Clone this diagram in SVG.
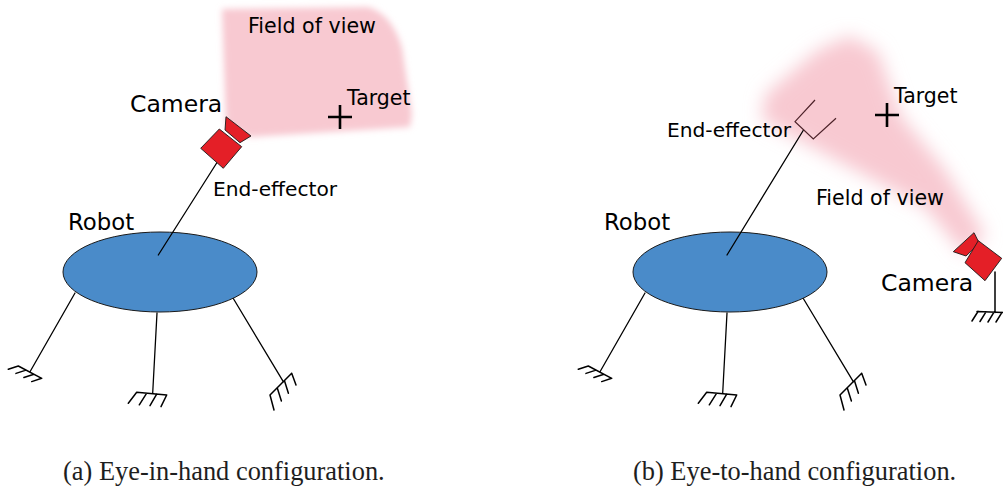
<svg xmlns="http://www.w3.org/2000/svg" width="1003" height="488" viewBox="0 0 1003 488">
  <style>
    .lbl { font-family: "DejaVu Sans", Verdana, sans-serif; fill: #000; }
    .cap { font-family: "Liberation Serif", "Times New Roman", serif; font-size: 26.4px; fill: #1e1e1e; }
    .wire { stroke: #000; stroke-width: 1.3; fill: none; stroke-linecap: round; }
    .gnd { stroke: #000; stroke-width: 1.5; fill: none; stroke-linecap: round; }
    .body { fill: #4a8bc9; stroke: #1a1a1a; stroke-width: 1; }
    .cam { fill: #e41f27; stroke: #1a1a1a; stroke-width: 0.9; stroke-linejoin: round; }
    .fov { fill: #f8c9d1; }
    .cross { stroke: #000; stroke-width: 2.6; }
  </style>
  <defs>
    <filter id="softA" x="-20%" y="-20%" width="140%" height="140%">
      <feGaussianBlur stdDeviation="3"/>
    </filter>
    <filter id="softB" x="-30%" y="-30%" width="160%" height="160%">
      <feGaussianBlur stdDeviation="9"/>
    </filter>
    <!-- three legs with ground symbols, shared by both robots -->
    <g id="legs">
      <path class="wire" d="M75,293 L30,371.7"/>
      <path class="gnd" d="M18.3,366 L41.7,378.3 M18.3,366 L8.3,369.3 M26,370.1 L16,373.4 M33.9,374.2 L23.9,377.5 M41.7,378.3 L31.7,381.6"/>
      <path class="wire" d="M157,313 L152.7,393"/>
      <path class="gnd" d="M136.7,392.3 L166.7,395 M136.7,392.3 L128.3,403.3 M146.7,393.2 L139.3,404.8 M156.7,394.1 L150,405.7 M166.7,395 L161,406.7"/>
      <path class="wire" d="M233,298 L283.3,381.7"/>
      <path class="gnd" d="M270,395 L291.7,373.3 M270,395 L274,410 M277.2,387.8 L281.4,401 M284.4,380.5 L288.4,393.3 M291.7,373.3 L296,385"/>
    </g>
  </defs>

  <!-- (a) eye-in-hand -->
  <g id="fov-a">
    <path class="fov" filter="url(#softA)" d="M222,9 L368,7 Q392,14 402,48 L412,114 L410,127 L250,137 L226,126 Z"/>
  </g>
  <g id="robot-a">
    <g id="connectors-a">
      <use href="#legs"/>
    </g>
    <ellipse class="body" cx="160" cy="272" rx="97" ry="40"/>
    <path class="wire" d="M158.3,255 L217,162.5"/>
  </g>
  <g id="camera-a">
    <polygon class="cam" points="225,130 226,116.7 251,136 240,142.7"/>
    <polygon class="cam" points="200.7,148.3 219.3,129 241.7,146.7 223.3,168.3"/>
  </g>
  <g id="target-a">
    <path class="cross" d="M328,117 H352 M340,105 V129"/>
  </g>
  <g id="labels-a">
    <text class="lbl" x="248" y="33" font-size="20.6">Field of view</text>
    <text class="lbl" x="347" y="105" font-size="20.5">Target</text>
    <text class="lbl" x="130" y="112" font-size="23.5">Camera</text>
    <text class="lbl" x="213" y="196" font-size="20.2">End-effector</text>
    <text class="lbl" x="68" y="230" font-size="22.8">Robot</text>
  </g>
  <text class="cap" x="63" y="480">(a) Eye-in-hand configuration.</text>

  <!-- (b) eye-to-hand -->
  <g id="fov-b">
    <path class="fov" filter="url(#softB)" d="M965,255 L925,207 L840,162 L762,120 L765,95 L818,50 L850,36 L878,52 L900,115 L945,170 L985,235 Z"/>
  </g>
  <g id="robot-b">
    <g id="connectors-b">
      <use href="#legs" transform="translate(570,0)"/>
    </g>
    <ellipse class="body" cx="730" cy="272" rx="97" ry="40"/>
    <path class="wire" d="M727,255 L803.5,130"/>
  </g>
  <g id="gripper-b">
    <path d="M815,100 L795,121.7 L813.3,139 L836,118.3" fill="none" stroke="#4d2229" stroke-width="1.2"/>
  </g>
  <g id="camera-b">
    <path class="gnd" d="M995,272 L995,312.5 M977,311.5 L1003,312.5 M978,311.5 L972,321 M986,311.8 L980,321.5 M994,312.1 L988,322 M1002,312.4 L996,322"/>
    <polygon class="cam" points="966,256 953.3,251.7 974,232.7 979.3,243.3"/>
    <polygon class="cam" points="978.3,240.7 1001.7,258.3 985,280.7 965,262.7"/>
  </g>
  <g id="target-b">
    <path class="cross" d="M875,115 H899 M887,103 V127"/>
  </g>
  <g id="labels-b">
    <text class="lbl" x="894" y="103" font-size="20.5">Target</text>
    <text class="lbl" x="667" y="137" font-size="20.2">End-effector</text>
    <text class="lbl" x="816" y="205" font-size="20.6">Field of view</text>
    <text class="lbl" x="604" y="230" font-size="22.8">Robot</text>
    <text class="lbl" x="881" y="291" font-size="23.5">Camera</text>
  </g>
  <text class="cap" x="633" y="480">(b) Eye-to-hand configuration.</text>
</svg>
